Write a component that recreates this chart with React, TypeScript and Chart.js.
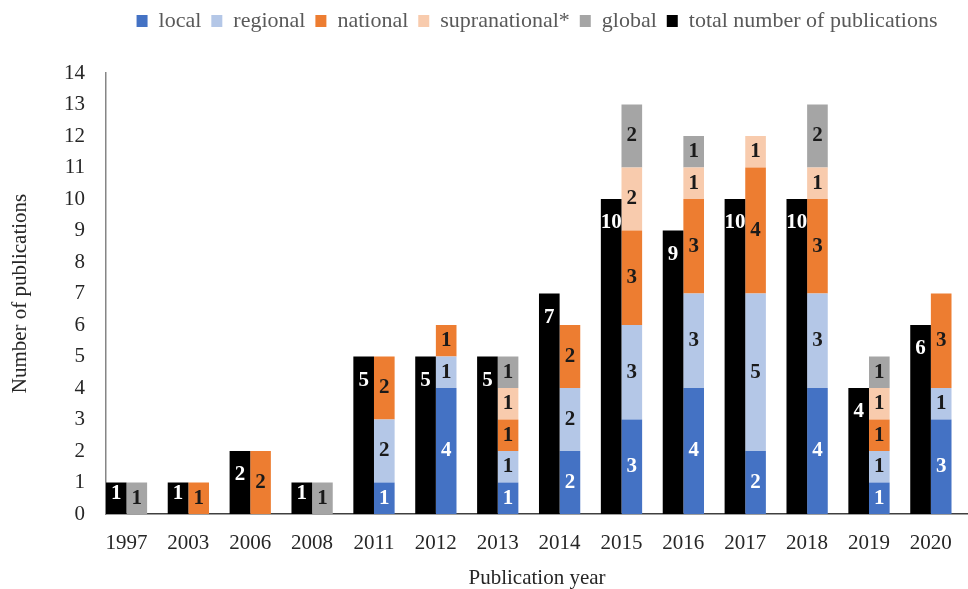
import React, { useEffect, useRef } from 'react';
import { Chart, registerables } from 'chart.js';

Chart.register(...registerables);

const FONT = '"Liberation Serif", "Times New Roman", serif';

const years = ['1997', '2003', '2006', '2008', '2011', '2012', '2013', '2014', '2015', '2016', '2017', '2018', '2019', '2020'];
const totalPubs = [1, 1, 2, 1, 5, 5, 5, 7, 10, 9, 10, 10, 4, 6];
const localVals = [0, 0, 0, 0, 1, 4, 1, 2, 3, 4, 2, 4, 1, 3];
const regionalVals = [0, 0, 0, 0, 2, 1, 1, 2, 3, 3, 5, 3, 1, 1];
const nationalVals = [0, 1, 2, 0, 2, 1, 1, 2, 3, 3, 4, 3, 1, 3];
const supraVals = [0, 0, 0, 0, 0, 0, 1, 0, 2, 1, 1, 1, 1, 0];
const globalVals = [1, 0, 0, 1, 0, 0, 1, 0, 2, 1, 0, 2, 1, 0];
const yTicks = [0, 1, 2, 3, 4, 5, 6, 7, 8, 9, 10, 11, 12, 13, 14];

const toPoints = (arr: number[]) => arr.map((v, i) => ({ x: i, y: v }));

const barLabels = {
  id: 'barLabels',
  afterDatasetsDraw(chart: any) {
    const ctx = chart.ctx;
    ctx.save();
    ctx.font = `bold 21px ${FONT}`;
    ctx.textAlign = 'center';
    ctx.textBaseline = 'middle';
    chart.data.datasets.forEach((ds: any, di: number) => {
      const meta = chart.getDatasetMeta(di);
      if (meta.hidden) return;
      meta.data.forEach((el: any, i: number) => {
        const v = ds.data[i].y;
        if (!v) return;
        const { x, y, base } = el.getProps(['x', 'y', 'base'], true);
        const cy = ds.isTotal ? Math.min(y + 24, base - 20) : (y + base) / 2;
        ctx.fillStyle = ds.labelColor;
        ctx.fillText(String(v), x, cy);
      });
    });
    ctx.restore();
  },
};

const legendSpacer = {
  id: 'legendSpacer',
  beforeInit(chart: any) {
    const legend = chart.legend;
    if (!legend) return;
    const orig = legend.fit;
    legend.fit = function () {
      orig.call(this);
      this.height += 31;
    };
  },
  afterLayout(chart: any) {
    const l = chart.legend;
    if (l) {
      l.left += 53;
      l.right += 53;
    }
  },
};

export default function App() {
  const ref = useRef<HTMLCanvasElement | null>(null);

  useEffect(() => {
    if (!ref.current) return;
    Chart.defaults.font.family = FONT;
    const chart = new Chart(ref.current, {
      type: 'bar',
      data: {
        datasets: [
          { label: 'total number of publications', data: toPoints(totalPubs), backgroundColor: '#000000', stack: 'total', isTotal: true, labelColor: '#ffffff' } as any,
          { label: 'local', data: toPoints(localVals), backgroundColor: '#4472C4', stack: 'cat', labelColor: '#ffffff' } as any,
          { label: 'regional', data: toPoints(regionalVals), backgroundColor: '#B4C7E7', stack: 'cat', labelColor: '#1a1a1a' } as any,
          { label: 'national', data: toPoints(nationalVals), backgroundColor: '#ED7D31', stack: 'cat', labelColor: '#1a1a1a' } as any,
          { label: 'supranational*', data: toPoints(supraVals), backgroundColor: '#F8CBAD', stack: 'cat', labelColor: '#1a1a1a' } as any,
          { label: 'global', data: toPoints(globalVals), backgroundColor: '#A5A5A5', stack: 'cat', labelColor: '#1a1a1a' } as any,
        ],
      },
      options: {
        animation: false,
        responsive: true,
        maintainAspectRatio: false,
        categoryPercentage: 0.667,
        barPercentage: 1,
        layout: { padding: 0 },
        plugins: {
          tooltip: { enabled: false },
          legend: {
            position: 'top',
            labels: {
              boxWidth: 11,
              boxHeight: 12,
              padding: 10,
              color: '#595959',
              font: { size: 22, family: FONT },
              sort: (a: any, b: any) => (a.datasetIndex === 0 ? 100 : a.datasetIndex) - (b.datasetIndex === 0 ? 100 : b.datasetIndex),
            },
          },
        },
        scales: {
          x: {
            type: 'linear',
            min: -0.331,
            max: 13.6,
            offset: false,
            afterBuildTicks: (s: any) => {
              s.ticks = years.map((_, i) => ({ value: i }));
            },
            ticks: {
              autoSkip: false,
              maxRotation: 0,
              padding: 17,
              color: '#262626',
              font: { size: 21, family: FONT },
              callback: (v: any) => years[v] ?? '',
            },
            grid: { display: false, drawTicks: false },
            border: { display: true, color: '#404040', width: 1.5 },
            title: {
              display: true,
              text: 'Publication year',
              color: '#262626',
              font: { size: 21, family: FONT, lineHeight: 1 },
              padding: { top: 0, bottom: 0 },
            },
            afterFit: (s: any) => {
              s.height = 75;
              s.paddingLeft = 0;
              s.paddingRight = 0;
            },
          },
          y: {
            stacked: true,
            min: 0,
            max: 14,
            afterBuildTicks: (s: any) => {
              s.ticks = yTicks.map((v) => ({ value: v }));
            },
            ticks: {
              padding: 21,
              color: '#262626',
              font: { size: 21, family: FONT },
            },
            grid: { display: false, drawTicks: false },
            border: { display: true, color: '#868686', width: 1.5 },
            title: {
              display: true,
              text: 'Number of publications',
              color: '#262626',
              font: { size: 21, family: FONT, lineHeight: 1 },
              padding: { top: 10, bottom: 0 },
            },
            afterFit: (s: any) => {
              s.width = 106;
              s.paddingTop = 0;
              s.paddingBottom = 0;
            },
          },
        },
      } as any,
      plugins: [barLabels, legendSpacer],
    });
    return () => chart.destroy();
  }, []);

  return (
    <div style={{ position: 'fixed', left: 0, top: 0, width: 968, height: 589, background: '#ffffff' }}>
      <canvas ref={ref} />
    </div>
  );
}
